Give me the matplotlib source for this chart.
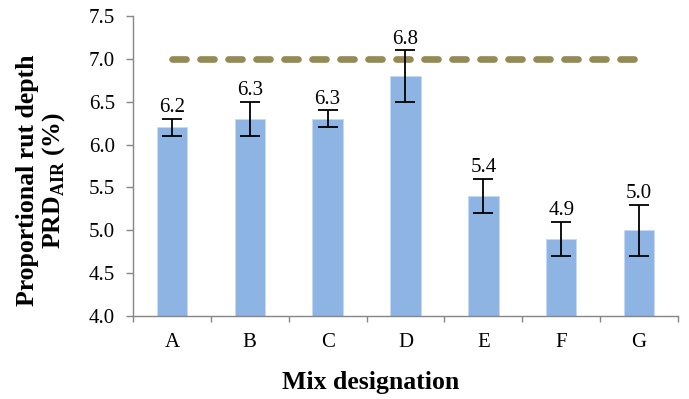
import numpy as np
import matplotlib
matplotlib.use("Agg")
import matplotlib.pyplot as plt

plt.rcParams['font.family'] = ['Liberation Serif', 'DejaVu Serif']
plt.rcParams['mathtext.fontset'] = 'custom'
plt.rcParams['mathtext.rm'] = 'Liberation Serif'
plt.rcParams['mathtext.bf'] = 'Liberation Serif:bold'

mixes = ['A', 'B', 'C', 'D', 'E', 'F', 'G']
prd_air = [6.2, 6.3, 6.3, 6.8, 5.4, 4.9, 5.0]
prd_err = [0.1, 0.2, 0.1, 0.3, 0.2, 0.2, 0.3]
limit = 7.0

grey = '#868686'

fig = plt.figure(figsize=(6.89, 3.99), dpi=100)
ax = fig.add_axes([0.193, 0.208, 0.791, 0.752])

x = np.arange(len(mixes))
ax.bar(x, prd_air, width=0.39, color='#8EB4E3', edgecolor='#C6D9F1', linewidth=0.6, zorder=2)
ax.errorbar(x, prd_air, yerr=prd_err, fmt='none', ecolor='black', elinewidth=1.3,
            capsize=7, capthick=1.3, zorder=3)

# limit line drawn across the categories
ax.plot(x, [limit] * len(x), color='#948A54', linewidth=4.8, linestyle=(0, (2.1, 2.1)),
        dash_capstyle='round', zorder=1)

for xi, v, e in zip(x, prd_air, prd_err):
    ax.text(xi, v + e + 0.02, f'{v:.1f}', ha='center', va='bottom', fontsize=15)

ax.set_xlim(-0.5, len(mixes) - 0.5)
ax.set_ylim(4.0, 7.5)
ax.set_yticks(np.arange(4.0, 7.51, 0.5))
ax.set_yticklabels([f'{t:.1f}' for t in np.arange(4.0, 7.51, 0.5)])
ax.set_xticks(x)
ax.set_xticklabels(mixes)
ax.set_xticks(np.arange(-0.5, len(mixes)), minor=True)
ax.tick_params(axis='x', which='major', length=0, pad=12, labelsize=15)
ax.tick_params(axis='x', which='minor', length=4, color=grey, width=1)
ax.tick_params(axis='y', length=5, color=grey, width=1, labelsize=15, pad=8)

for s in ['top', 'right']:
    ax.spines[s].set_visible(False)
for s in ['left', 'bottom']:
    ax.spines[s].set_color(grey)
    ax.spines[s].set_linewidth(1)

fig.text(41.5 / 689, 1 - 180 / 399, 'Proportional rut depth\nPRD$_\\mathbf{AIR}$ (%)',
         rotation=90, ha='center', va='center', multialignment='center',
         fontsize=18.5, fontweight='bold', linespacing=1.05)
fig.text(371 / 689, 1 - 383 / 399, 'Mix designation', ha='center', va='center',
         fontsize=18.5, fontweight='bold')

fig.savefig('out.png', dpi=100)
